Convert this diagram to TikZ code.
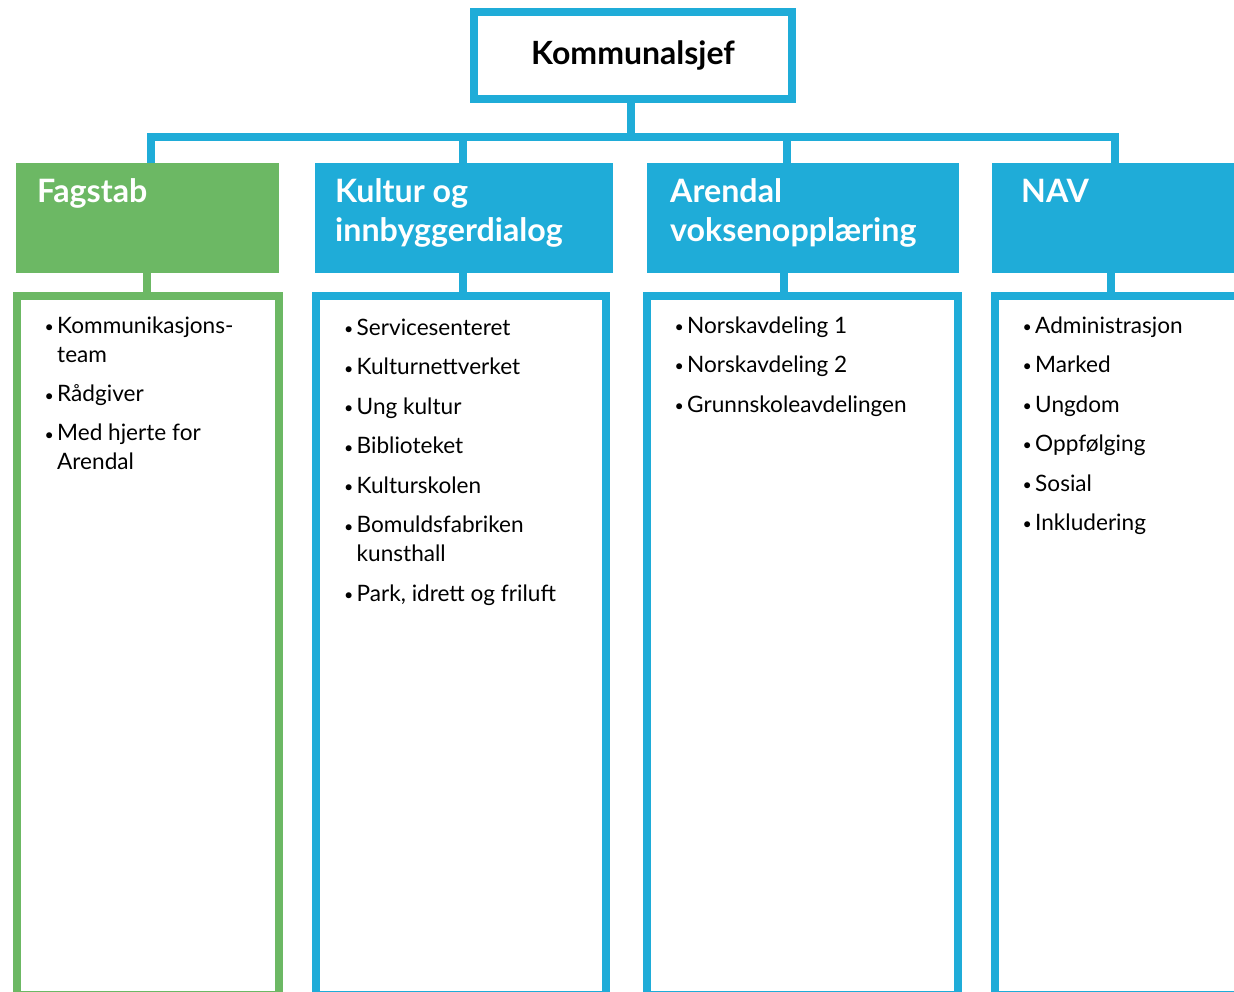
\documentclass[tikz,border=0pt]{standalone}
\usepackage{fontspec}
\setmainfont{Lato}
\definecolor{ablue}{RGB}{31,172,216}
\definecolor{agreen}{RGB}{108,184,100}
\newcommand{\bul}{\makebox[12.5pt][l]{\raisebox{0.5pt}{\fontsize{16}{16}\selectfont\textbullet}}}
\newcommand{\ind}{\hspace*{12.5pt}}
\newcommand{\gap}{\par\vspace{10.5pt}}
\tikzset{
  conn/.style={line width=8pt, draw=ablue, line join=miter},
  headbox/.style={anchor=north west, inner sep=0pt, outer sep=0pt, minimum height=110pt, fill=#1},
  contbox/.style={anchor=north west, inner sep=0pt, outer sep=0pt, draw=#1, line width=8pt, minimum height=699pt},
  lst/.style={anchor=base west, inner sep=0pt, text=black},
  htxt/.style={anchor=base west, inner sep=0pt, text=white},
}
\newcommand{\lstbox}[1]{\parbox[t]{280pt}{\fontsize{22.6}{29}\selectfont #1}}
\newcommand{\headtext}[1]{\parbox[t]{300pt}{\bfseries\fontsize{32.2}{39}\selectfont #1}}
\begin{document}
\begin{tikzpicture}[x=1pt,y=-1pt]
\useasboundingbox (0,0) rectangle (1234,992);
\clip (0,0) rectangle (1234,992);
% top box
\node[draw=ablue, line width=8pt, minimum width=318pt, minimum height=87pt, inner sep=0pt, outer sep=0pt,
      font=\bfseries\fontsize{32}{38}\selectfont] (chief) at (633,55.5) {Kommunalsjef};
% headers
\node[headbox=agreen, minimum width=263pt] (fag) at (16,163) {};
\node[headbox=ablue, minimum width=298pt] (kul) at (315,163) {};
\node[headbox=ablue, minimum width=312pt] (are) at (647,163) {};
\node[headbox=ablue, minimum width=300pt] (nav) at (992,163) {};
% content boxes
\node[contbox=agreen, minimum width=262pt] (fagb) at (17,296) {};
\node[contbox=ablue, minimum width=290pt] (kulb) at (316,296) {};
\node[contbox=ablue, minimum width=311pt] (areb) at (647,296) {};
\node[contbox=ablue, minimum width=320pt] (navb) at (995,296) {};
% header texts
\node[htxt] (fagt) at (37,203) {\headtext{Fagstab}};
\node[htxt] (kult) at (335,203) {\headtext{Kultur og\\innbyggerdialog}};
\node[htxt] (aret) at (670,203) {\headtext{Arendal\\voksenopplæring}};
\node[htxt] (navt) at (1021,203) {\headtext{NAV}};
% connectors
\coordinate (bus) at (631,137.5);
\coordinate (d1) at (151,0);
\coordinate (d2) at (463,0);
\coordinate (d3) at (787,0);
\coordinate (d4) at (1115,0);
\coordinate (e1) at (147,0);
\coordinate (e2) at (463,0);
\coordinate (e3) at (784,0);
\coordinate (e4) at (1111,0);
\draw[conn] (chief.south -| bus) -- (bus);
\draw[conn] (d1 |- fag.north) |- (d4 |- bus) -- (d4 |- nav.north);
\draw[conn] (d2 |- bus) -- (d2 |- kul.north);
\draw[conn] (d3 |- bus) -- (d3 |- are.north);
\draw[conn, draw=agreen] (e1 |- fag.south) -- (e1 |- fagb.north);
\draw[conn] (e2 |- kul.south) -- (e2 |- kulb.north);
\draw[conn] (e3 |- are.south) -- (e3 |- areb.north);
\draw[conn] (e4 |- nav.south) -- (e4 |- navb.north);
% lists
\node[lst] (fagl) at (44.5,333) {\lstbox{\bul Kommunikasjons-\\\ind team\gap
\bul Rådgiver\gap
\bul Med hjerte for\\\ind Arendal}};
\node[lst] (kull) at (344,335) {\lstbox{\bul Servicesenteret\gap
\bul Kulturnettverket\gap
\bul Ung kultur\gap
\bul Biblioteket\gap
\bul Kulturskolen\gap
\bul Bomuldsfabriken\\\ind kunsthall\gap
\bul Park, idrett og friluft}};
\node[lst] (arel) at (674.5,333) {\lstbox{\bul Norskavdeling 1\gap
\bul Norskavdeling 2\gap
\bul Grunnskoleavdelingen}};
\node[lst] (navl) at (1022.5,333) {\lstbox{\bul Administrasjon\gap
\bul Marked\gap
\bul Ungdom\gap
\bul Oppfølging\gap
\bul Sosial\gap
\bul Inkludering}};
\end{tikzpicture}
\end{document}
